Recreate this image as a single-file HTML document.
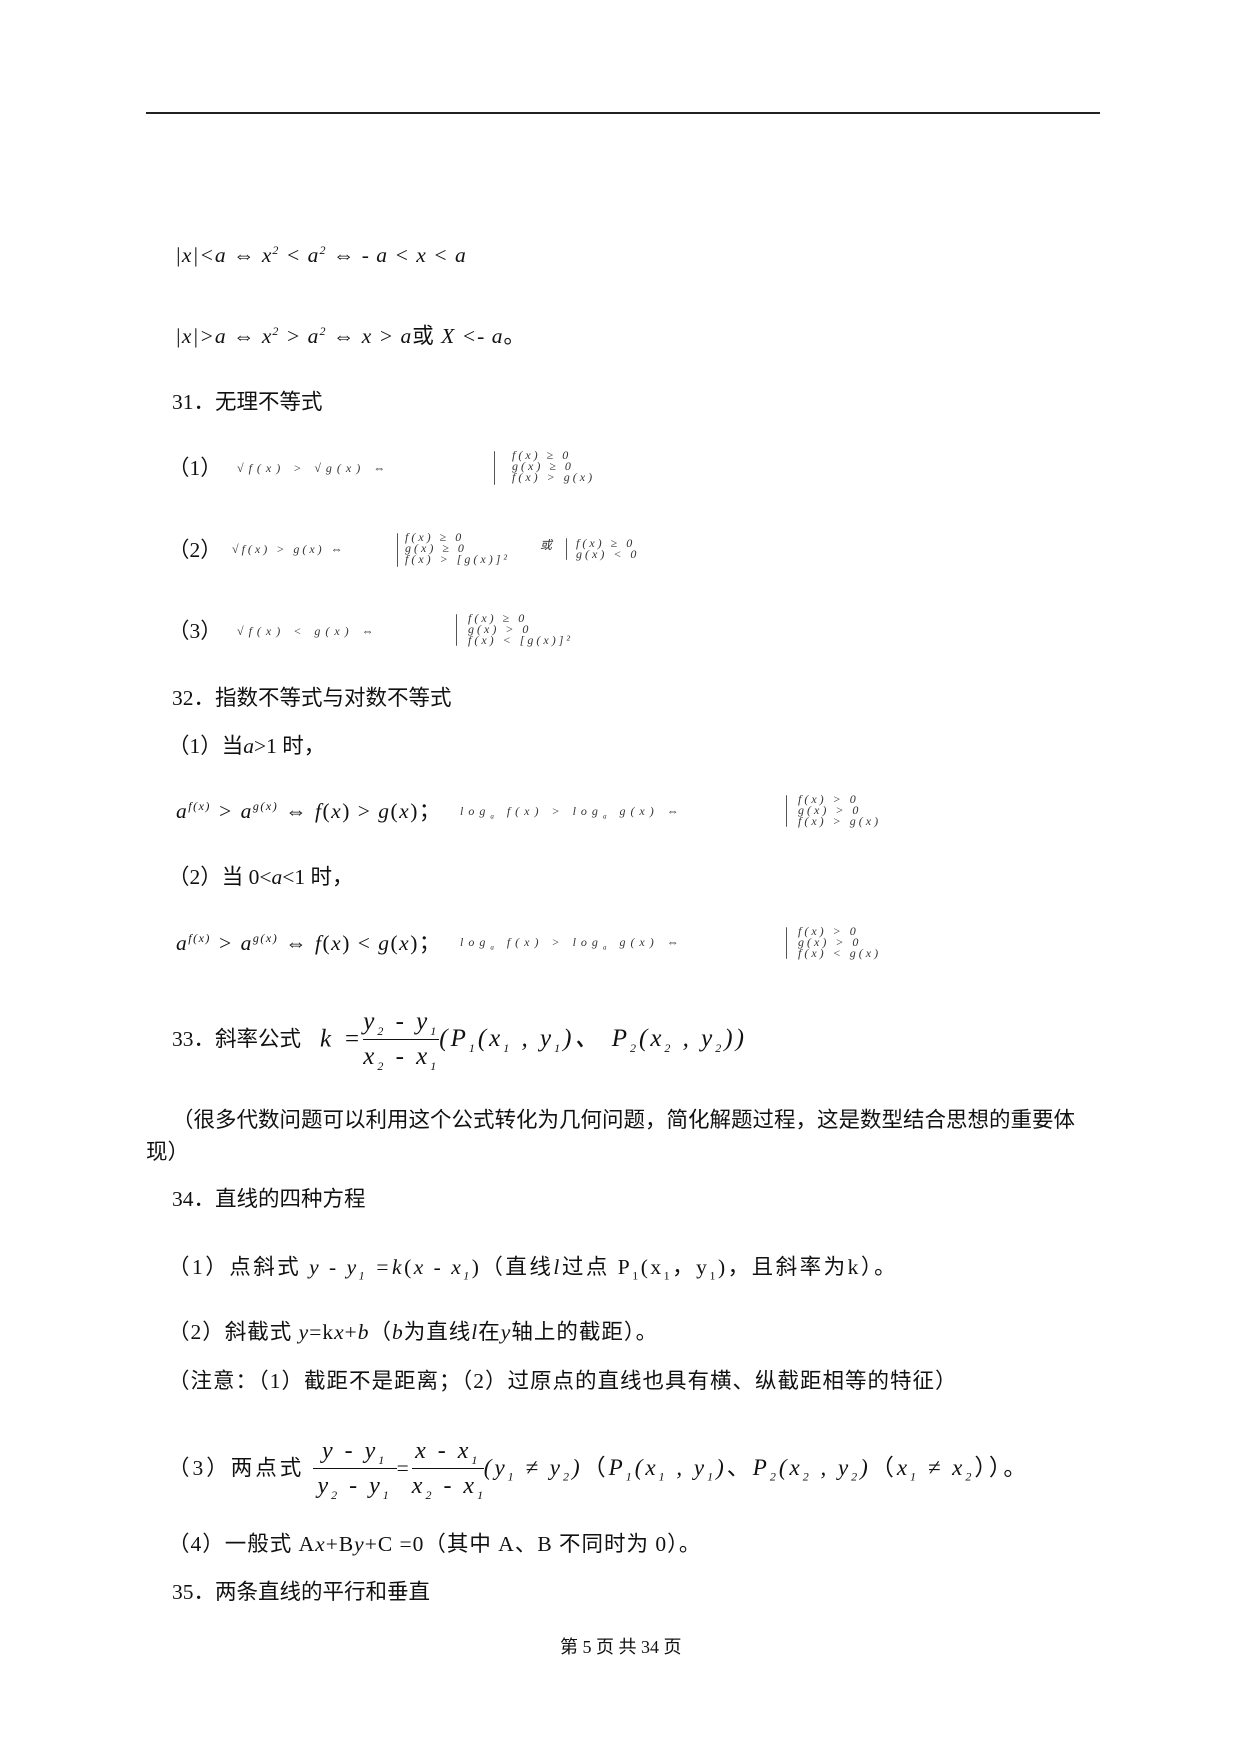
<!DOCTYPE html>
<html><head><meta charset="utf-8"><style>
body{margin:0;background:#fff;}
#p{position:relative;width:1240px;height:1754px;background:#fff;font-family:"Liberation Serif","Noto Sans CJK SC",serif;color:#111;}
.t{position:absolute;white-space:nowrap;font-size:21.5px;line-height:24px;}
.i{font-style:italic;font-family:"Liberation Serif",serif;}
.s{position:absolute;white-space:nowrap;font-family:"Liberation Serif",serif;font-size:12px;line-height:11px;color:#333;font-style:italic;letter-spacing:3px;}
.w{letter-spacing:5px;}
.br{position:absolute;border-left:1px solid #555;border-radius:6px 0 0 6px;}
sub,sup{font-size:12px;line-height:0;}
.fr{display:inline-block;vertical-align:middle;text-align:center;}
.fr span{display:block;line-height:24px;padding:5px 0;}
.fr .n{border-bottom:1px solid #111;}
</style></head><body><div id="p">
<div style="position:absolute;left:146px;top:112px;width:954px;height:2px;background:#222"></div>

<div class="t i" style="left:175px;top:243px;letter-spacing:1px">|x|&lt;a ⇔ x<sup>2</sup> &lt; a<sup>2</sup> ⇔ - a &lt; x &lt; a</div>
<div class="t" style="left:175px;top:324px;letter-spacing:1px"><span class="i">|x|&gt;a ⇔ x<sup>2</sup> &gt; a<sup>2</sup> ⇔ x &gt; a</span>或<span class="i"> X &lt;- a</span>。</div>

<div class="t" style="left:172px;top:390px">31．无理不等式</div>

<div class="t" style="left:168px;top:456px">（1）</div>
<div class="s w" style="left:237px;top:463px">√f(x) &gt; √g(x) ⇔</div>
<div class="br" style="left:494px;top:451px;height:34px"></div>
<div class="s" style="left:512px;top:450px">f(x) ≥ 0<br>g(x) ≥ 0<br>f(x) &gt; g(x)</div>

<div class="t" style="left:168px;top:538px">（2）</div>
<div class="s" style="left:232px;top:544px">√f(x) &gt; g(x) ⇔</div>
<div class="br" style="left:397px;top:533px;height:34px"></div>
<div class="s" style="left:405px;top:532px">f(x) ≥ 0<br>g(x) ≥ 0<br>f(x) &gt; [g(x)]²</div>
<div class="s" style="left:540px;top:540px">或</div>
<div class="br" style="left:566px;top:538px;height:22px"></div>
<div class="s" style="left:576px;top:538px">f(x) ≥ 0<br>g(x) &lt; 0</div>

<div class="t" style="left:168px;top:619px">（3）</div>
<div class="s w" style="left:237px;top:626px">√f(x) &lt; g(x) ⇔</div>
<div class="br" style="left:456px;top:614px;height:32px"></div>
<div class="s" style="left:468px;top:613px">f(x) ≥ 0<br>g(x) &gt; 0<br>f(x) &lt; [g(x)]²</div>

<div class="t" style="left:172px;top:686px">32．指数不等式与对数不等式</div>
<div class="t" style="left:168px;top:734px">（1）当<span class="i">a</span>&gt;1 时，</div>
<div class="t" style="left:176px;top:799px;letter-spacing:1.5px"><span class="i">a<sup>f(x)</sup> &gt; a<sup>g(x)</sup></span> ⇔ <span class="i">f</span>(<span class="i">x</span>) &gt; <span class="i">g</span>(<span class="i">x</span>)；</div>
<div class="s w" style="left:460px;top:806px">log<sub style="font-size:7px">a</sub> f(x) &gt; log<sub style="font-size:7px">a</sub> g(x) ⇔</div>
<div class="br" style="left:786px;top:795px;height:32px"></div>
<div class="s" style="left:798px;top:794px">f(x) &gt; 0<br>g(x) &gt; 0<br>f(x) &gt; g(x)</div>

<div class="t" style="left:168px;top:865px">（2）当 0&lt;<span class="i">a</span>&lt;1 时，</div>
<div class="t" style="left:176px;top:931px;letter-spacing:1.5px"><span class="i">a<sup>f(x)</sup> &gt; a<sup>g(x)</sup></span> ⇔ <span class="i">f</span>(<span class="i">x</span>) &lt; <span class="i">g</span>(<span class="i">x</span>)；</div>
<div class="s w" style="left:460px;top:937px">log<sub style="font-size:7px">a</sub> f(x) &gt; log<sub style="font-size:7px">a</sub> g(x) ⇔</div>
<div class="br" style="left:786px;top:927px;height:32px"></div>
<div class="s" style="left:798px;top:926px">f(x) &gt; 0<br>g(x) &gt; 0<br>f(x) &lt; g(x)</div>

<div class="t" style="left:172px;top:1027px">33．斜率公式</div>
<div class="t i" style="left:320px;top:1004px;font-size:25px;line-height:68px;letter-spacing:3px"><span style="vertical-align:middle">k =</span><span class="fr"><span class="n">y<sub>2</sub> - y<sub>1</sub></span><span>x<sub>2</sub> - x<sub>1</sub></span></span><span style="vertical-align:middle">(P<sub>1</sub>(x<sub>1</sub> , y<sub>1</sub>)、 P<sub>2</sub>(x<sub>2</sub> , y<sub>2</sub>))</span></div>

<div class="t" style="left:172px;top:1108px">（很多代数问题可以利用这个公式转化为几何问题，简化解题过程，这是数型结合思想的重要体</div>
<div class="t" style="left:146px;top:1140px">现）</div>

<div class="t" style="left:172px;top:1187px">34．直线的四种方程</div>
<div class="t" style="left:168px;top:1255px;letter-spacing:2.5px">（1）点斜式 <span class="i">y - y<sub>1</sub> =k</span>(<span class="i">x - x<sub>1</sub></span>)（直线<span class="i">l</span>过点 P<sub>1</sub>(x<sub>1</sub>，y<sub>1</sub>)，且斜率为k）。</div>
<div class="t" style="left:168px;top:1320px;letter-spacing:1px">（2）斜截式 <span class="i">y</span>=k<span class="i">x</span>+<span class="i">b</span>（<span class="i">b</span>为直线<span class="i">l</span>在<span class="i">y</span>轴上的截距）。</div>
<div class="t" style="left:168px;top:1369px;letter-spacing:1px">（注意：（1）截距不是距离；（2）过原点的直线也具有横、纵截距相等的特征）</div>
<div class="t" style="left:168px;top:1432px;line-height:68px;letter-spacing:3px"><span style="vertical-align:middle">（3）两点式 </span><span class="fr i" style="width:84px;font-size:24px"><span class="n">y - y<sub>1</sub></span><span>y<sub>2</sub> - y<sub>1</sub></span></span><span style="vertical-align:middle">=</span><span class="fr i" style="width:72px;font-size:24px"><span class="n">x - x<sub>1</sub></span><span>x<sub>2</sub> - x<sub>1</sub></span></span><span style="vertical-align:middle;font-size:23px"><span class="i">(y<sub>1</sub> ≠ y<sub>2</sub>)</span>（<span class="i">P<sub>1</sub>(x<sub>1</sub> , y<sub>1</sub>)</span>、<span class="i">P<sub>2</sub>(x<sub>2</sub> , y<sub>2</sub>)</span>（<span class="i">x<sub>1</sub> ≠ x<sub>2</sub></span>））。</span></div>
<div class="t" style="left:168px;top:1532px;letter-spacing:1px">（4）一般式 A<span class="i">x</span>+B<span class="i">y</span>+C =0（其中 A、B 不同时为 0）。</div>
<div class="t" style="left:172px;top:1580px">35．两条直线的平行和垂直</div>

<div class="t" style="left:560px;top:1635px;font-size:18px">第 5 页 共 34 页</div>
</div></body></html>
